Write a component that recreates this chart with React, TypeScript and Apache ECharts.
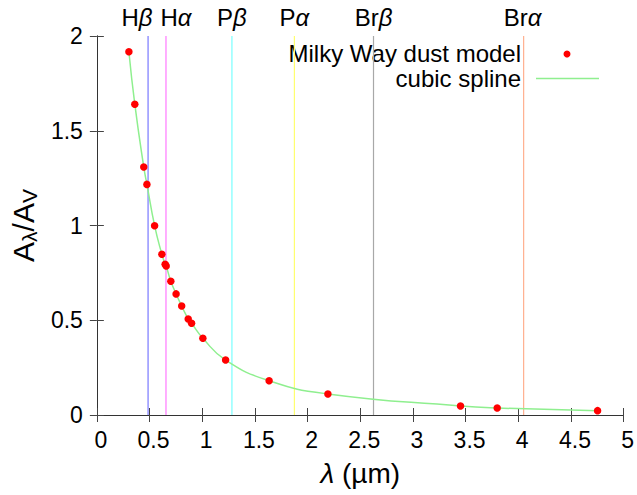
import React, { useEffect, useRef } from "react";
import * as echarts from "echarts";

const wavelengths = [0.304, 0.36, 0.445, 0.475, 0.548, 0.617, 0.648, 0.658, 0.702, 0.752, 0.805, 0.867, 0.899, 1.006, 1.222, 1.635, 2.193, 3.452, 3.8, 4.753];
const extinction = [1.917, 1.64, 1.309, 1.217, 0.999, 0.848, 0.795, 0.786, 0.706, 0.639, 0.575, 0.507, 0.484, 0.405, 0.29, 0.181, 0.111, 0.0475, 0.037, 0.023];

const lineNames = ["H{g|β}", "H{g|α}", "P{g|β}", "P{g|α}", "Br{g|β}", "Br{g|α}"];
const lineWavelengths = [0.486, 0.656, 1.282, 1.875, 2.626, 4.051];
const lineColors = ["#7878ff", "#ff78ff", "#78ffff", "#ffff70", "#a8a8a8", "#ffb090"];
const lineLabelShift = [-11, 10, 0, 0, 0, -1];

const xTicks = { min: 0, max: 5, interval: 0.5 };
const yTicks = { min: 0, max: 2, interval: 0.5 };

const FONT = "'Liberation Sans', Arial, sans-serif";

export default function App() {
  const ref = useRef<HTMLDivElement>(null);
  useEffect(() => {
    if (!ref.current) return;
    const chart = echarts.init(ref.current, null, { renderer: "svg" });
    const pts = wavelengths.map((x, i) => [x, extinction[i]]);
    const axisLine = { show: true, lineStyle: { color: "#333", width: 1 } };
    const tick = { show: true, inside: true, length: 7, lineStyle: { color: "#444", width: 1 } };
    const fmt = (v: number) => String(v);
    const topY = yTicks.max;

    const verticalSeries = lineWavelengths.map((w, i) => ({
      name: "line" + i,
      type: "line",
      data: [[w, yTicks.min], [w, topY]],
      symbol: "none",
      showSymbol: false,
      silent: true,
      lineStyle: { color: lineColors[i], width: 1.2, opacity: 1 },
      emphasis: { disabled: true },
      z: 1,
    }));

    chart.setOption({
      animation: false,
      backgroundColor: "#fff",
      textStyle: { fontFamily: FONT },
      grid: { left: 96, right: 9, top: 36, bottom: 80, containLabel: false },
      xAxis: [
        {
          type: "value", ...xTicks, position: "bottom",
          axisLine, axisTick: tick, splitLine: { show: false },
          axisLabel: { fontSize: 23, color: "#000", fontFamily: FONT, margin: 13, formatter: fmt, padding: [0, 0, 0, 8] },
          name: "{g|λ} (µm)", nameLocation: "middle", nameGap: 44,
          nameTextStyle: { fontSize: 28, color: "#000", fontFamily: FONT, rich: { g: { fontSize: 28, fontStyle: "italic", fontFamily: FONT } } },
        },
        {
          type: "value", ...xTicks, position: "top",
          axisLine, axisTick: tick, splitLine: { show: false }, axisLabel: { show: false },
        },
      ],
      yAxis: [
        {
          type: "value", ...yTicks, position: "left",
          axisLine, axisTick: tick, splitLine: { show: false },
          axisLabel: { fontSize: 23, color: "#000", fontFamily: FONT, margin: 14, formatter: fmt },
          name: "{a|A}{s|λ}{a|/A}{s|V}", nameLocation: "middle", nameGap: 50, nameRotate: 90,
          nameTextStyle: {
            color: "#000", fontFamily: FONT,
            rich: {
              a: { fontSize: 30, lineHeight: 34, fontFamily: FONT, color: "#000" },
              s: { fontSize: 21, lineHeight: 18, verticalAlign: "bottom", fontFamily: FONT, color: "#000" },
            },
          },
        },
        {
          type: "value", ...yTicks, position: "right",
          axisLine, axisTick: tick, splitLine: { show: false }, axisLabel: { show: false },
        },
      ],
      series: [
        ...verticalSeries,
        {
          name: "lineLabels",
          type: "scatter",
          silent: true,
          symbolSize: 0,
          clip: false,
          z: 4,
          itemStyle: { opacity: 1 },
          data: lineWavelengths.map((w, i) => ({
            value: [w, topY],
            label: {
              show: true,
              position: "top",
              distance: 7,
              formatter: lineNames[i],
              offset: [lineLabelShift[i], 0],
              fontSize: 24,
              color: "#000",
              opacity: 1,
              fontFamily: FONT,
              rich: { g: { fontSize: 24, fontStyle: "italic", fontFamily: FONT, color: "#000" } },
            },
          })),
        },
        {
          name: "cubic spline",
          type: "line",
          data: pts,
          smooth: 0.5,
          showSymbol: false,
          symbol: "none",
          lineStyle: { color: "#8fef8f", width: 1.5 },
          z: 2,
        },
        {
          name: "Milky Way dust model",
          type: "scatter",
          data: pts,
          symbol: "circle",
          symbolSize: 7.5,
          itemStyle: { color: "#ff0000", opacity: 1 },
          z: 3,
        },
      ],
      graphic: [
        {
          type: "text", x: 521, y: 53,
          style: { text: "Milky Way dust model", textAlign: "right", textVerticalAlign: "middle", fontSize: 24, fontFamily: FONT, fill: "#000" },
        },
        { type: "circle", shape: { cx: 567, cy: 54, r: 3.5 }, style: { fill: "#ff0000" } },
        {
          type: "text", x: 521, y: 78,
          style: { text: "cubic spline", textAlign: "right", textVerticalAlign: "middle", fontSize: 24, fontFamily: FONT, fill: "#000" },
        },
        { type: "line", shape: { x1: 536, y1: 78.5, x2: 599, y2: 78.5 }, style: { stroke: "#8fef8f", lineWidth: 1.5 } },
      ],
    });
    return () => chart.dispose();
  }, []);
  return <div ref={ref} style={{ position: "fixed", left: 0, top: 0, width: 637, height: 495 }} />;
}
